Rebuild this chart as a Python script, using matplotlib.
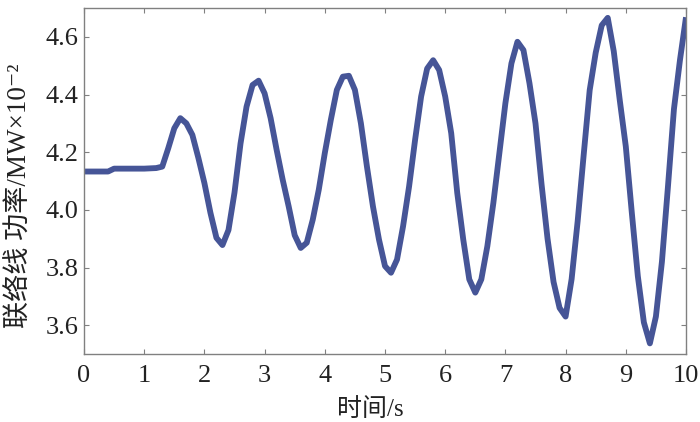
import numpy as np
import matplotlib
matplotlib.use("Agg")
import matplotlib.pyplot as plt

# time axis (s), sampled every 0.1 s
time_s = np.round(np.arange(0, 101) * 0.1, 1)
# tie-line power (MW x 1e-2)
power = [
    4.133, 4.133, 4.133, 4.133, 4.133, 4.143, 4.143, 4.143, 4.143, 4.143,
    4.143, 4.144, 4.145, 4.150, 4.214, 4.283, 4.318, 4.300, 4.260, 4.180,
    4.093, 3.990, 3.903, 3.878, 3.930, 4.060, 4.230, 4.358, 4.433, 4.448,
    4.404, 4.318, 4.208, 4.105, 4.012, 3.912, 3.868, 3.886, 3.966, 4.070,
    4.197, 4.312, 4.416, 4.462, 4.465, 4.416, 4.300, 4.150, 4.012, 3.897,
    3.805, 3.782, 3.828, 3.943, 4.081, 4.243, 4.393, 4.490, 4.519, 4.485,
    4.393, 4.266, 4.059, 3.897, 3.759, 3.713, 3.759, 3.874, 4.024, 4.197,
    4.370, 4.508, 4.583, 4.554, 4.439, 4.300, 4.090, 3.900, 3.750, 3.660,
    3.630, 3.760, 3.960, 4.190, 4.415, 4.545, 4.640, 4.666, 4.550, 4.380,
    4.220, 3.990, 3.770, 3.610, 3.537, 3.630, 3.820, 4.080, 4.350, 4.520,
    4.668,
]
x_ticks = list(range(0, 11))
y_ticks = [3.6, 3.8, 4.0, 4.2, 4.4, 4.6]
x_label = "时间/s"
y_label = "联络线 功率/MW×10⁻²"

serif = ["Liberation Serif", "Noto Sans CJK SC", "DejaVu Sans"]
plt.rcParams["font.family"] = serif

fig = plt.figure(figsize=(7.0, 4.22), dpi=100)
ax = fig.add_axes([0.12, 0.161, 0.86, 0.820])

ax.plot(time_s, power, color="#465597", lw=4.2, solid_joinstyle="round",
        solid_capstyle="butt")

ax.set_xlim(0, 10)
ax.set_ylim(3.5, 4.7)
ax.set_xticks(x_ticks)
ax.set_xticklabels([str(v) for v in x_ticks])
ax.set_yticks(y_ticks)
ax.set_yticklabels([f"{v:.1f}" for v in y_ticks])

for s in ax.spines.values():
    s.set_color("#808080")
    s.set_linewidth(1.0)
ax.tick_params(direction="in", length=3.5, width=0.8, color="#808080",
               top=True, right=True, labelsize=19, labelcolor="#222222")
ax.tick_params(axis="x", pad=8)
ax.tick_params(axis="y", pad=4)

ax.set_xlabel(x_label, fontsize=18, family=serif, color="#222222", va="center")
ax.set_ylabel(y_label, fontsize=19.5, family=serif, color="#222222", va="center")
ax.xaxis.set_label_coords(0.475, -0.160)
ax.yaxis.set_label_coords(-0.106, 0.457)

fig.savefig("out.png", dpi=100)
